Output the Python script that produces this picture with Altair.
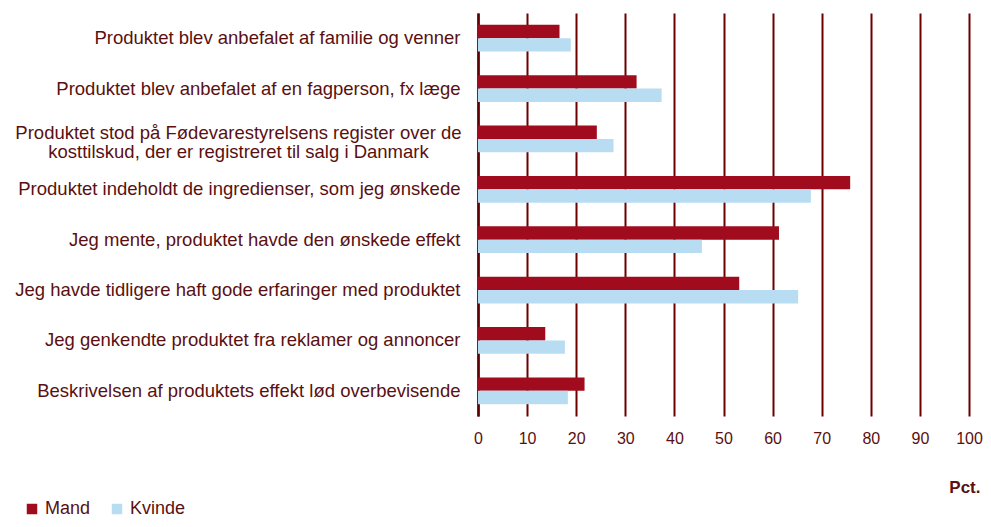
import altair as alt
import pandas as pd

categories = [
    "Produktet blev anbefalet af familie og venner",
    "Produktet blev anbefalet af en fagperson, fx læge",
    "Produktet stod på Fødevarestyrelsens register over de|kosttilskud, der er registreret til salg i Danmark",
    "Produktet indeholdt de ingredienser, som jeg ønskede",
    "Jeg mente, produktet havde den ønskede effekt",
    "Jeg havde tidligere haft gode erfaringer med produktet",
    "Jeg genkendte produktet fra reklamer og annoncer",
    "Beskrivelsen af produktets effekt lød overbevisende",
]
mand = [16.6, 32.3, 24.2, 75.8, 61.3, 53.2, 13.7, 21.7]
kvinde = [18.9, 37.4, 27.6, 67.8, 45.6, 65.2, 17.7, 18.3]
series = ["Mand", "Kvinde"]
colors = ["#a00c1e", "#b8ddf2"]
x_ticks = [0, 10, 20, 30, 40, 50, 60, 70, 80, 90, 100]

rows = []
for c, m, k in zip(categories, mand, kvinde):
    rows.append({"kategori": c, "køn": "Mand", "pct": m})
    rows.append({"kategori": c, "køn": "Kvinde", "pct": k})
df = pd.DataFrame(rows)

TXT = "#5a1010"
FONT = "Liberation Sans"
is_multi = "indexof(datum.label, '|') >= 0"

chart = (
    alt.Chart(df)
    .mark_bar()
    .encode(
        y=alt.Y(
            "kategori:N",
            sort=categories,
            scale=alt.Scale(paddingInner=0.47, paddingOuter=0.235),
            axis=alt.Axis(
                title=None,
                labelExpr=f"{is_multi} ? split(datum.label, '|') : datum.label",
                labelFontSize=18.5,
                labelFont=FONT,
                labelColor=TXT,
                labelAlign={"condition": {"test": is_multi, "value": "center"}, "value": "right"},
                labelPadding={"condition": {"test": is_multi, "value": 240}, "value": 18},
                labelOffset={"condition": {"test": is_multi, "value": -6}, "value": 0},
                labelLineHeight=19,
                labelLimit=0,
                ticks=False,
                domain=True,
                domainColor="#5c0000",
                domainWidth=2.5,
                grid=False,
            ),
        ),
        yOffset=alt.YOffset("køn:N", sort=series, scale=alt.Scale(paddingInner=0, paddingOuter=0)),
        x=alt.X(
            "pct:Q",
            scale=alt.Scale(domain=[0, 100], nice=False),
            axis=alt.Axis(
                values=x_ticks,
                title="Pct.",
                titleFont=FONT,
                titleFontSize=17,
                titleFontWeight="bold",
                titleColor=TXT,
                titleAnchor="end",
                titleAlign="right",
                titleBaseline="middle",
                titleX=502,
                titleY=71,
                labelFont=FONT,
                labelFontSize=16,
                labelColor=TXT,
                labelPadding=14,
                labelFlush=False,
                ticks=False,
                domain=False,
                grid=True,
                gridColor="#6e0000",
                gridWidth=2,
                gridOpacity=1,
            ),
        ),
        color=alt.Color(
            "køn:N",
            sort=series,
            scale=alt.Scale(domain=series, range=colors),
            legend=alt.Legend(
                title=None,
                orient="none",
                direction="horizontal",
                legendX=-455,
                legendY=487,
                symbolType="square",
                symbolSize=110,
                symbolStrokeWidth=0,
                labelFont=FONT,
                labelFontSize=18,
                labelColor=TXT,
                labelOffset=4,
                columnPadding=17,
            ),
        ),
    )
    .properties(
        width=491,
        height=403,
        autosize=alt.AutoSizeParams(type="none"),
        padding={"left": 470, "top": 5, "right": 14, "bottom": 103},
        background="white",
    )
    .configure_view(stroke=None)
)

chart.save("out.html", embed_options={"renderer": "svg", "actions": False})
